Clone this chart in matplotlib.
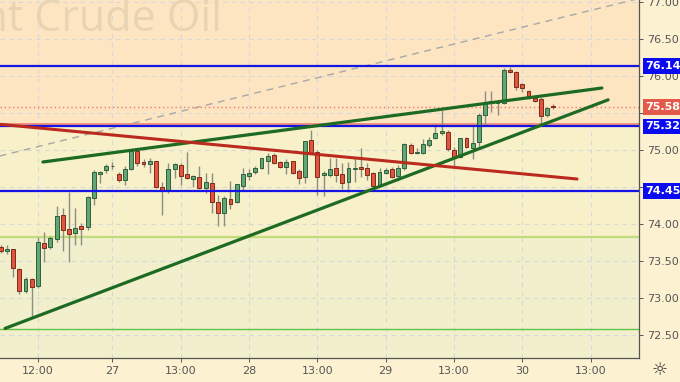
## hourly Brent chart with hand drawn levels and trend lines
import matplotlib
matplotlib.use("Agg")
from matplotlib import pyplot as plt
import matplotlib.transforms as mtransforms

# hourly candles
opens = [73.69, 73.64, 73.66, 73.39, 73.09, 73.26, 73.16, 73.74, 73.69, 73.80,
         74.12, 73.93, 73.88, 73.97, 73.96, 74.35, 74.68, 74.73, 74.78, 74.68,
         74.60, 74.74, 74.99, 74.84, 74.81, 74.85, 74.50, 74.45, 74.74, 74.80,
         74.68, 74.61, 74.64, 74.49, 74.55, 74.30, 74.15, 74.34, 74.30, 74.51,
         74.65, 74.70, 74.76, 74.86, 74.93, 74.84, 74.77, 74.85, 74.72, 74.64,
         75.14, 74.97, 74.67, 74.66, 74.76, 74.68, 74.57, 74.74, 74.77, 74.76,
         74.69, 74.51, 74.69, 74.74, 74.65, 74.76, 75.07, 74.96, 74.96, 75.07,
         75.16, 75.23, 75.24, 75.00, 74.91, 75.16, 75.03, 75.11, 75.47, 75.64,
         75.64, 75.64, 76.09, 76.05, 75.89, 75.80, 75.70, 75.69, 75.47, 75.59]
highs = [73.72, 73.72, 73.67, 73.41, 73.28, 73.27, 73.82, 73.89, 73.84, 74.24,
         74.22, 74.43, 74.22, 74.01, 74.38, 74.73, 74.72, 74.81, 74.84, 74.70,
         74.78, 75.00, 75.00, 74.88, 74.89, 74.86, 74.57, 74.82, 74.82, 74.82,
         74.97, 74.66, 74.78, 74.69, 74.69, 74.39, 74.38, 74.58, 74.54, 74.76,
         74.74, 74.78, 74.89, 74.96, 74.96, 74.85, 74.88, 74.86, 74.74, 75.12,
         75.27, 75.00, 74.72, 74.90, 74.89, 74.82, 74.84, 74.89, 75.03, 74.82,
         74.70, 74.76, 74.76, 74.77, 74.80, 75.09, 75.09, 75.03, 75.15, 75.18,
         75.36, 75.54, 75.27, 75.04, 75.16, 75.18, 75.32, 75.50, 75.80, 75.80,
         75.68, 76.11, 76.12, 76.07, 75.91, 75.82, 75.74, 75.72, 75.59, 75.62]
lows = [73.61, 73.60, 73.28, 73.05, 73.07, 72.73, 73.13, 73.49, 73.66, 73.76,
        73.64, 73.49, 73.72, 73.72, 73.92, 74.26, 74.55, 74.69, 74.74, 74.57,
        74.53, 74.73, 74.78, 74.77, 74.69, 74.49, 74.12, 74.42, 74.62, 74.53,
        74.61, 74.50, 74.47, 74.42, 74.15, 73.97, 73.97, 74.20, 74.28, 74.46,
        74.59, 74.68, 74.74, 74.68, 74.81, 74.76, 74.68, 74.68, 74.54, 74.55,
        74.96, 74.39, 74.38, 74.64, 74.57, 74.47, 74.43, 74.57, 74.64, 74.59,
        74.50, 74.50, 74.68, 74.62, 74.62, 74.73, 74.95, 74.95, 74.95, 75.04,
        75.15, 75.20, 74.99, 74.78, 74.90, 75.03, 74.88, 75.04, 75.32, 75.51,
        75.47, 75.62, 76.04, 75.82, 75.78, 75.69, 75.65, 75.34, 75.45, 75.55]
closes = [73.64, 73.66, 73.41, 73.09, 73.26, 73.15, 73.76, 73.68, 73.81, 74.11,
          73.92, 73.86, 73.95, 73.93, 74.36, 74.70, 74.70, 74.78, 74.79, 74.60,
          74.74, 74.99, 74.82, 74.81, 74.86, 74.50, 74.45, 74.74, 74.81, 74.65,
          74.62, 74.65, 74.49, 74.57, 74.30, 74.15, 74.35, 74.27, 74.54, 74.68,
          74.69, 74.76, 74.89, 74.92, 74.82, 74.77, 74.84, 74.69, 74.62, 75.12,
          74.96, 74.64, 74.69, 74.74, 74.66, 74.55, 74.76, 74.76, 74.74, 74.66,
          74.51, 74.70, 74.73, 74.64, 74.76, 75.08, 74.96, 74.97, 75.08, 75.14,
          75.23, 75.26, 75.01, 74.89, 75.16, 75.04, 75.09, 75.47, 75.65, 75.66,
          75.65, 76.08, 76.05, 75.86, 75.84, 75.72, 75.66, 75.46, 75.57, 75.58]

# x axis labels (bar index where they sit)
tick_bars = [6, 18, 29, 40, 51, 62, 73, 84, 95]
tick_labels = ["12:00", "27", "13:00", "28", "13:00", "29", "13:00", "30", "13:00"]
price_ticks = [72.5, 73.0, 73.5, 74.0, 74.5, 75.0, 75.5, 76.0, 76.5, 77.0]
hidden_ticks = [74.5, 75.5]   # covered by the price tags

# levels
blue_levels = [76.14, 75.32, 74.45]
last_price = 75.58
zone_top = 75.35      # peach zone above this
zone_mid = 73.82      # green zone line
zone_low = 72.58

# trend lines in bars / price
green_up_x = [6.8, 96.8]
green_up_y = [74.84, 75.84]
green_low_x = [0.7, 97.8]
green_low_y = [72.59, 75.68]
red_x = [-0.2, 92.8]
red_y = [75.35, 74.61]
dash_x = [-0.2, 110.0]
dash_y = [74.92, 77.20]

fig = plt.figure(figsize=(6.8, 3.82), dpi=100)
fig.patch.set_facecolor("#fcf2d2")
ax = fig.add_axes([0, 24 / 382, 638.5 / 680, 358 / 382])
ax.set_facecolor("#f1efcc")
ax.set_xlim(-0.11, 102.7)
ax.set_ylim(72.19, 77.03)

# zones
ax.axhspan(zone_top, 78, color="#fde5c2", zorder=0, lw=0)
ax.axhspan(zone_mid, zone_top, color="#f8f0c8", zorder=0, lw=0)
ax.axhline(zone_top, color="#f08a78", lw=1.3, zorder=1)
ax.axhline(zone_mid, color="#c2dc7c", lw=1.6, zorder=1)
ax.axhline(zone_low, color="#62c446", lw=1.0, zorder=1)

# grid
for b in tick_bars:
    ax.axvline(b, color="#d6d9dc", lw=0.8, ls=(0, (4, 4)), zorder=0.5)
for p in price_ticks:
    ax.axhline(p, color="#d6d9dc", lw=0.8, ls=(0, (4, 4)), zorder=0.5)

# watermark, cut at the left edge like the original
ax.text(222 / 638.5, 1 - 31 / 358, "Brent Crude Oil", transform=ax.transAxes,
        ha="right", va="baseline", fontsize=31, family="Open Sans",
        color="#e8d4b3", zorder=0.6, clip_on=True)

ax.plot(dash_x, dash_y, color="#a8a8a8", lw=1.0, ls=(0, (5, 4)), zorder=1.2)

# candles
for i in range(len(opens)):
    o, h, l, c = opens[i], highs[i], lows[i], closes[i]
    up = c >= o
    face = "#62a676" if up else "#e2553c"
    edge = "#2f5f3c" if up else "#7d2b1d"
    ax.vlines(i, l, h, color="#8a8f86", lw=1.0, zorder=2)
    body = max(abs(c - o), 0.012)
    ax.bar(i, body, bottom=min(o, c), width=0.62, color=face,
           edgecolor=edge, linewidth=0.7, zorder=3)

# horizontal levels
for lv in blue_levels:
    ax.axhline(lv, color="#1414e6", lw=1.6, zorder=4)
ax.axhline(last_price, color="#f07a6a", lw=1.0, ls=(0, (1, 2)), zorder=1.5)

# trend lines
ax.plot(green_up_x, green_up_y, color="#1d6a22", lw=2.3, zorder=5,
        solid_capstyle="round")
ax.plot(green_low_x, green_low_y, color="#1d6a22", lw=2.3, zorder=5,
        solid_capstyle="round")
ax.plot(red_x, red_y, color="#bb2a1e", lw=2.2, zorder=5,
        solid_capstyle="round")

# axes styling
for s in ["top", "left"]:
    ax.spines[s].set_visible(False)
for s in ["right", "bottom"]:
    ax.spines[s].set_color("#555555")
    ax.spines[s].set_linewidth(0.9)
ax.yaxis.tick_right()
ax.set_yticks(price_ticks)
ax.set_yticklabels(["" if p in hidden_ticks else "%.2f" % p for p in price_ticks])
ax.set_xticks(tick_bars)
ax.set_xticklabels(tick_labels)
ax.tick_params(axis="both", colors="#555555", labelsize=8, length=3,
               width=0.7, pad=3)

# price tags on the right axis
trans = mtransforms.blended_transform_factory(ax.transAxes, ax.transData)
for lv in blue_levels:
    ax.text(1.011, lv, "%.2f" % lv, transform=trans, ha="left", va="center",
            color="white", fontsize=8, fontweight="bold", zorder=10,
            clip_on=False,
            bbox=dict(boxstyle="square,pad=0.25", fc="#0b0bf2", ec="none"))
ax.text(1.011, last_price, "%.2f" % last_price, transform=trans, ha="left",
        va="center", color="white", fontsize=8, fontweight="bold", zorder=10,
        clip_on=False,
        bbox=dict(boxstyle="square,pad=0.25", fc="#e35a48", ec="none"))

fig.text(660 / 680, 1 - 370 / 382, "\u263c", ha="center", va="center",
         fontsize=13, color="#333333")

plt.savefig("out.png", dpi=100, facecolor=fig.get_facecolor())
